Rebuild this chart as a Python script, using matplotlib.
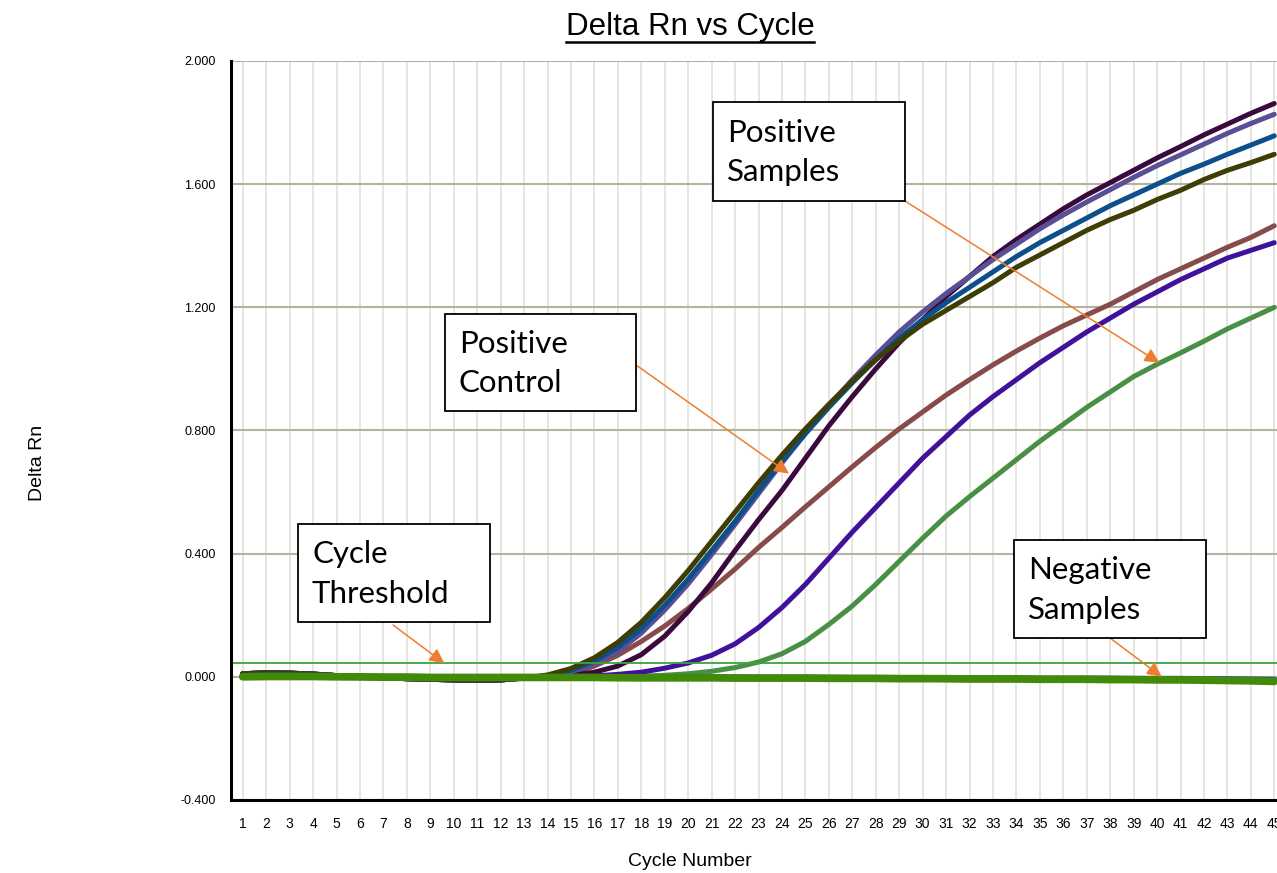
import matplotlib
matplotlib.use("Agg")
import matplotlib.pyplot as plt
from matplotlib.patches import Rectangle
from matplotlib.lines import Line2D

plt.rcParams['font.family'] = ['Liberation Sans', 'DejaVu Sans']

# cycle numbers and delta Rn values
cycles = list(range(1, 46))
baseline = [0.010, 0.013, 0.012, 0.009, 0.004, 0.000, -0.003, -0.006, -0.008,
            -0.010, -0.011, -0.010, -0.004]

pos_olive = baseline + [0.006, 0.027, 0.062, 0.112, 0.177, 0.257, 0.345, 0.440, 0.535,
                        0.630, 0.720, 0.805, 0.885, 0.960, 1.030, 1.090, 1.145, 1.190,
                        1.235, 1.280, 1.330, 1.370, 1.410, 1.450, 1.485, 1.515, 1.550,
                        1.580, 1.615, 1.645, 1.670, 1.697]
pos_blue = baseline + [0.004, 0.021, 0.051, 0.096, 0.157, 0.232, 0.317, 0.410, 0.505,
                       0.605, 0.700, 0.790, 0.875, 0.955, 1.030, 1.100, 1.160, 1.215,
                       1.265, 1.315, 1.365, 1.410, 1.450, 1.490, 1.530, 1.565, 1.600,
                       1.635, 1.665, 1.697, 1.727, 1.757]
pos_slate = baseline + [0.003, 0.016, 0.042, 0.082, 0.142, 0.217, 0.302, 0.397, 0.495,
                        0.595, 0.695, 0.790, 0.880, 0.965, 1.045, 1.120, 1.185, 1.245,
                        1.300, 1.355, 1.405, 1.455, 1.500, 1.542, 1.582, 1.622, 1.660,
                        1.695, 1.730, 1.765, 1.797, 1.827]
pos_control = baseline + [0.000, 0.005, 0.015, 0.035, 0.072, 0.132, 0.212, 0.305, 0.410,
                          0.510, 0.605, 0.710, 0.815, 0.910, 1.000, 1.085, 1.160, 1.235,
                          1.300, 1.365, 1.420, 1.470, 1.520, 1.565, 1.605, 1.645, 1.685,
                          1.722, 1.760, 1.795, 1.830, 1.862]
pos_brown = baseline + [0.000, 0.010, 0.035, 0.070, 0.115, 0.165, 0.222, 0.285, 0.350,
                        0.420, 0.485, 0.552, 0.617, 0.682, 0.745, 0.805, 0.860, 0.915,
                        0.965, 1.013, 1.058, 1.100, 1.140, 1.175, 1.210, 1.250, 1.290,
                        1.325, 1.360, 1.395, 1.427, 1.465]
pos_indigo = baseline + [0.000, 0.000, 0.003, 0.008, 0.015, 0.028, 0.045, 0.070, 0.107,
                         0.160, 0.225, 0.300, 0.385, 0.470, 0.550, 0.630, 0.710, 0.780,
                         0.850, 0.910, 0.965, 1.020, 1.070, 1.120, 1.165, 1.210, 1.250,
                         1.290, 1.325, 1.360, 1.385, 1.410]
pos_green = [0.002, 0.002, 0.002, 0.001, 0.001, 0.000, 0.000, -0.001, -0.001, -0.001,
             -0.001, -0.001, 0.000, 0.000, 0.000, 0.000, 0.001, 0.002, 0.005, 0.010,
             0.018, 0.030, 0.048, 0.075, 0.115, 0.170, 0.230, 0.300, 0.375, 0.450,
             0.522, 0.585, 0.645, 0.705, 0.765, 0.820, 0.875, 0.925, 0.975, 1.015,
             1.052, 1.090, 1.130, 1.165, 1.200]
neg_teal = [0.002, 0.003, 0.003, 0.002, 0.001, 0.000, -0.001, -0.001, -0.002, -0.002,
            -0.002, -0.002, -0.002, -0.002, -0.002, -0.002, -0.002, -0.003, -0.003,
            -0.003, -0.003, -0.003, -0.004, -0.004, -0.004, -0.004, -0.005, -0.005,
            -0.005, -0.005, -0.006, -0.006, -0.006, -0.006, -0.007, -0.007, -0.007,
            -0.007, -0.008, -0.008, -0.008, -0.009, -0.009, -0.010, -0.011]
neg_green = [0.000, 0.001, 0.001, 0.001, 0.000, 0.000, -0.001, -0.001, -0.002, -0.002,
             -0.002, -0.002, -0.002, -0.002, -0.002, -0.002, -0.003, -0.003, -0.003,
             -0.003, -0.003, -0.004, -0.004, -0.004, -0.004, -0.005, -0.005, -0.005,
             -0.006, -0.006, -0.006, -0.007, -0.007, -0.007, -0.008, -0.008, -0.008,
             -0.009, -0.009, -0.010, -0.010, -0.011, -0.012, -0.013, -0.015]
threshold = 0.044

y_ticks = [-0.4, 0.0, 0.4, 0.8, 1.2, 1.6, 2.0]

W, H = 1277, 873
fig = plt.figure(figsize=(W / 100, H / 100), dpi=100)


def fx(px):
    return px / W


def fy(py):
    return 1 - py / H


# axes: left spine at x=231px, x=45.5 lies just past the right edge of the picture
ax = fig.add_axes([fx(231), fy(800), (1286 - 231) / W, (800 - 61) / H])
ax.set_xlim(0.5, 45.5)
ax.set_ylim(-0.4, 2.0)

ax.set_xticks(cycles)
ax.set_xticklabels([str(c) for c in cycles], fontsize=10)
ax.set_yticks(y_ticks)
ax.set_yticklabels(['%.3f' % v for v in y_ticks], fontsize=9)
ax.tick_params(axis='x', length=0, pad=12)
ax.tick_params(axis='y', length=0, pad=11)

ax.grid(axis='x', color='#e2e2da', lw=1.2)
ax.grid(axis='y', color='#b3b39e', lw=1.5)
ax.set_axisbelow(True)
for s in ['top', 'right']:
    ax.spines[s].set_visible(False)
for s in ['left', 'bottom']:
    ax.spines[s].set_linewidth(2.2)
    ax.spines[s].set_color('black')

lw = 3.6
ax.plot(cycles, pos_green, color='#4a8f46', lw=lw, solid_capstyle='round')
ax.plot(cycles, pos_indigo, color='#40119a', lw=lw, solid_capstyle='round')
ax.plot(cycles, pos_brown, color='#874b4b', lw=lw, solid_capstyle='round')
ax.plot(cycles, pos_control, color='#3a0a3e', lw=lw, solid_capstyle='round')
ax.plot(cycles, pos_slate, color='#5a4f96', lw=lw, solid_capstyle='round')
ax.plot(cycles, pos_blue, color='#0d4f8b', lw=lw, solid_capstyle='round')
ax.plot(cycles, pos_olive, color='#3d3d05', lw=lw, solid_capstyle='round')
ax.plot(cycles, neg_teal, color='#1f5e7c', lw=5, solid_capstyle='round')
ax.plot(cycles, neg_green, color='#428a0a', lw=5.5, solid_capstyle='round')
ax.axhline(threshold, color='#3aa53a', lw=1.3)

# title with underline
title = fig.text(fx(690), fy(27), 'Delta Rn vs Cycle', fontsize=22.5,
                 ha='center', va='center')
fig.text(fx(690), fy(862), 'Cycle Number', fontsize=14, ha='center', va='center')
fig.text(fx(38), fy(463), 'Delta Rn', fontsize=14, ha='center', va='center',
         rotation=90)

fig.canvas.draw()
bb = title.get_window_extent().transformed(fig.transFigure.inverted())
fig.add_artist(Line2D([bb.x0, bb.x1], [fy(41.5), fy(41.5)], color='black', lw=1.8,
                      transform=fig.transFigure))

# callout boxes: (left, top, right, bottom) px, label, arrow start px, arrow target in data
callouts = [
    ((713, 102, 905, 201), 'Positive\nSamples', (905, 201), (40.1, 1.02)),
    ((445, 314, 636, 411), 'Positive\nControl', (636, 365), (24.3, 0.66)),
    ((298, 524, 490, 622), 'Cycle\nThreshold', (393, 625), (9.6, threshold)),
    ((1014, 540, 1206, 638), 'Negative\nSamples', (1110, 638), (40.2, 0.0)),
]
for (l, t, r, b), label, start, target in callouts:
    fig.add_artist(Rectangle((fx(l), fy(b)), (r - l) / W, (b - t) / H,
                             transform=fig.transFigure, fill=True, facecolor='white',
                             edgecolor='black', lw=1.3, zorder=5))
    fig.text(fx(l + 14), fy((t + b) / 2 + 1), label, fontsize=22.5,
             family=['Lato', 'DejaVu Sans'], ha='left', va='center',
             linespacing=1.5, zorder=6)
    ax.annotate('', xy=target, xycoords='data', xytext=(fx(start[0]), fy(start[1])),
                textcoords='figure fraction', annotation_clip=False,
                arrowprops=dict(arrowstyle='-|>', color='#ed7d31', lw=1.1,
                                mutation_scale=22, shrinkA=0, shrinkB=0))

fig.savefig('out.png', dpi=100)
